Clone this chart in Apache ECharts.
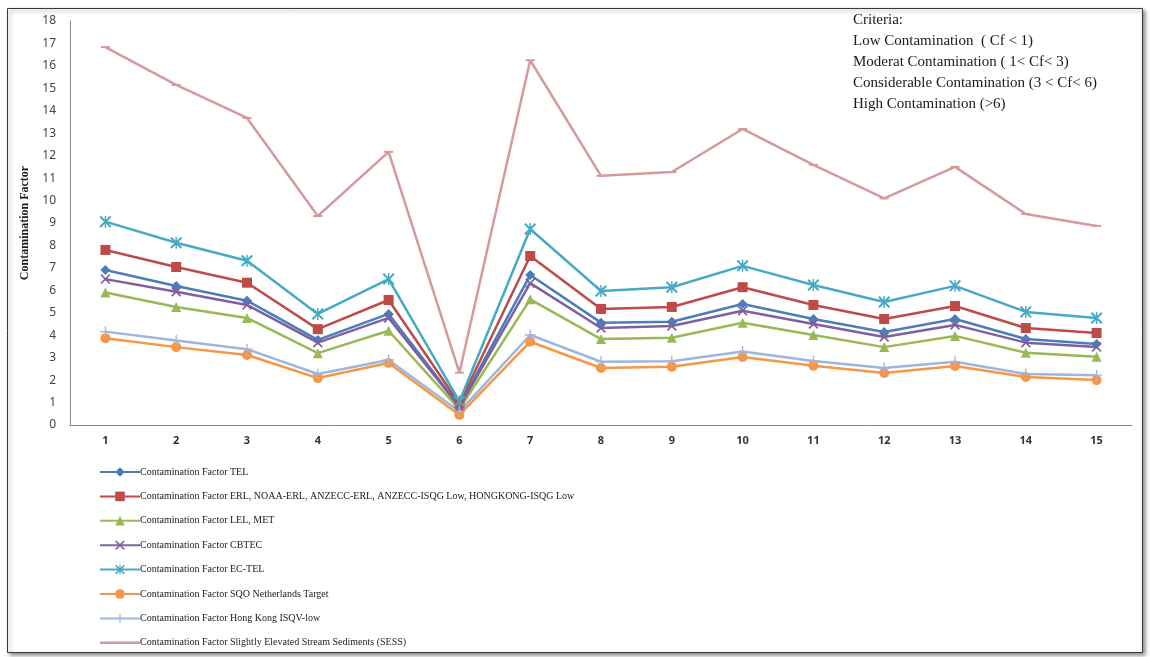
<!DOCTYPE html>
<html>
<head>
<meta charset="utf-8">
<script src="https://cdn.jsdelivr.net/npm/echarts@6/dist/echarts.min.js"></script>
<style>
html,body{margin:0;padding:0;background:#fff;}
#chart{width:1150px;height:657px;}
</style>
</head>
<body>
<div id="chart"></div>
<script>
const categories = ['1','2','3','4','5','6','7','8','9','10','11','12','13','14','15'];
const yTicks = [0,1,2,3,4,5,6,7,8,9,10,11,12,13,14,15,16,17,18];

const cfTEL   = [6.91, 6.19, 5.54, 3.79, 4.95, 0.85, 6.68, 4.56, 4.60, 5.39, 4.72, 4.14, 4.72, 3.83, 3.61];
const cfERL   = [7.80, 7.04, 6.34, 4.27, 5.57, 0.95, 7.53, 5.17, 5.26, 6.14, 5.35, 4.72, 5.30, 4.32, 4.10];
const cfLEL   = [5.90, 5.26, 4.77, 3.20, 4.20, 0.70, 5.60, 3.83, 3.89, 4.56, 4.01, 3.47, 3.97, 3.22, 3.04];
const cfCBTEC = [6.50, 5.94, 5.35, 3.67, 4.77, 0.80, 6.32, 4.32, 4.41, 5.09, 4.50, 3.92, 4.46, 3.67, 3.48];
const cfECTEL = [9.06, 8.12, 7.32, 4.95, 6.50, 1.05, 8.73, 5.97, 6.14, 7.09, 6.24, 5.48, 6.20, 5.04, 4.77];
const cfSQO   = [3.87, 3.47, 3.12, 2.09, 2.76, 0.45, 3.71, 2.54, 2.60, 3.03, 2.64, 2.32, 2.63, 2.14, 2.00];
const cfHK    = [4.16, 3.76, 3.38, 2.27, 2.90, 0.60, 4.01, 2.82, 2.84, 3.27, 2.85, 2.54, 2.82, 2.27, 2.22];
const cfSESS  = [16.84, 15.15, 13.68, 9.31, 12.17, 2.33, 16.25, 11.10, 11.27, 13.19, 11.59, 10.10, 11.50, 9.40, 8.87];

const seriesNames = [
  'Contamination Factor TEL',
  'Contamination Factor ERL, NOAA-ERL, ANZECC-ERL, ANZECC-ISQG Low, HONGKONG-ISQG Low',
  'Contamination Factor LEL, MET',
  'Contamination Factor CBTEC',
  'Contamination Factor EC-TEL',
  'Contamination Factor SQO Netherlands Target',
  'Contamination Factor Hong Kong ISQV-low',
  'Contamination Factor Slightly Elevated Stream Sediments (SESS)'
];
const criteriaLines = [
  'Criteria:',
  'Low Contamination  ( Cf < 1)',
  'Moderat Contamination ( 1< Cf< 3)',
  'Considerable Contamination (3 < Cf< 6)',
  'High Contamination (>6)'
];

const xPath = 'path://M0,1.2 L1.2,0 L5,3.8 L8.8,0 L10,1.2 L6.2,5 L10,8.8 L8.8,10 L5,6.2 L1.2,10 L0,8.8 L3.8,5 Z';
const starPath = 'path://M0,1.2 L1.2,0 L5,3.8 L8.8,0 L10,1.2 L6.2,5 L10,8.8 L8.8,10 L5,6.2 L1.2,10 L0,8.8 L3.8,5 Z M4.4,0 L5.6,0 L5.6,10 L4.4,10 Z';
const plusPath = 'path://M4.4,0 L5.6,0 L5.6,4.4 L10,4.4 L10,5.6 L5.6,5.6 L5.6,10 L4.4,10 L4.4,5.6 L0,5.6 L0,4.4 L4.4,4.4 Z';
const dashPath = 'path://M0,0 L10,0 L10,2 L0,2 Z';
const legendLinePath = 'path://M0,0 L40,0 L40,2.6 L0,2.6 Z';

const styles = [
  {data: cfTEL,   color:'#4a7ebb', symbol:'diamond',  size:10},
  {data: cfERL,   color:'#be4b48', symbol:'rect',     size:10},
  {data: cfLEL,   color:'#98b954', symbol:'triangle', size:10},
  {data: cfCBTEC, color:'#7d60a0', symbol:xPath,      size:10},
  {data: cfECTEL, color:'#46aac5', symbol:starPath,   size:12},
  {data: cfSQO,   color:'#f79646', symbol:'circle',   size:10},
  {data: cfHK,    color:'#9fb5dc', symbol:plusPath,   size:11},
  {data: cfSESS,  color:'#d49a9c', symbol:dashPath,   size:[9,2]}
];

const series = styles.map((s, i) => ({
  name: seriesNames[i],
  type: 'line',
  data: s.data,
  symbol: s.symbol,
  symbolSize: s.size,
  showAllSymbol: true,
  lineStyle: {color: s.color, width: 2.5},
  itemStyle: {color: s.color},
  emphasis: {disabled: true},
  animation: false
}));

const legendData = seriesNames.map((n, i) => (i === 7 ? {name: n, icon: legendLinePath} : {name: n}));

const chart = echarts.init(document.getElementById('chart'));
chart.setOption({
  backgroundColor: '#ffffff',
  animation: false,
  graphic: [
    {
      type: 'rect', z: -10, silent: true,
      shape: {x: 7.5, y: 8.5, width: 1135, height: 644},
      style: {fill: '#ffffff', stroke: '#3a3a3a', lineWidth: 1,
              shadowBlur: 4, shadowOffsetX: 2, shadowOffsetY: 2, shadowColor: 'rgba(0,0,0,0.45)'}
    },
    {
      type: 'text', z: 10, silent: true,
      left: 853, top: 10,
      style: {
        text: criteriaLines.join('\n'),
        font: '15px "Liberation Serif", "Times New Roman", serif',
        fill: '#1a1a1a',
        lineHeight: 21
      }
    }
  ],
  grid: {left: 70, right: 18, top: 21, bottom: 232, containLabel: false},
  legend: {
    type: 'plain',
    orient: 'vertical',
    left: 99, top: 467,
    padding: 0,
    itemWidth: 40, itemHeight: 12,
    itemGap: 14.4,
    data: legendData,
    textStyle: {fontFamily: '"Liberation Serif", "Times New Roman", serif', fontSize: 10, color: '#1a1a1a', padding: [0,0,0,-5]},
    selectedMode: false
  },
  xAxis: {
    type: 'category',
    data: categories,
    boundaryGap: true,
    axisLine: {lineStyle: {color: '#868686', width: 1}},
    axisTick: {show: false},
    axisLabel: {color: '#333', fontFamily: '"Noto Sans", sans-serif', fontSize: 11, margin: 10, fontWeight: 'bold'},
    splitLine: {show: false}
  },
  yAxis: {
    type: 'value',
    min: yTicks[0], max: yTicks[yTicks.length-1], interval: 1,
    name: 'Contamination Factor',
    nameLocation: 'middle',
    nameGap: 27,
    nameTextStyle: {fontFamily: '"Liberation Serif", "Times New Roman", serif', fontWeight: 'bold', fontSize: 12, color: '#1a1a1a'},
    axisLine: {show: true, lineStyle: {color: '#868686', width: 1}},
    axisTick: {show: false},
    axisLabel: {color: '#444', fontFamily: '"Noto Sans", sans-serif', fontSize: 12, margin: 14},
    splitLine: {show: false}
  },
  series: series
});
</script>
</body>
</html>
